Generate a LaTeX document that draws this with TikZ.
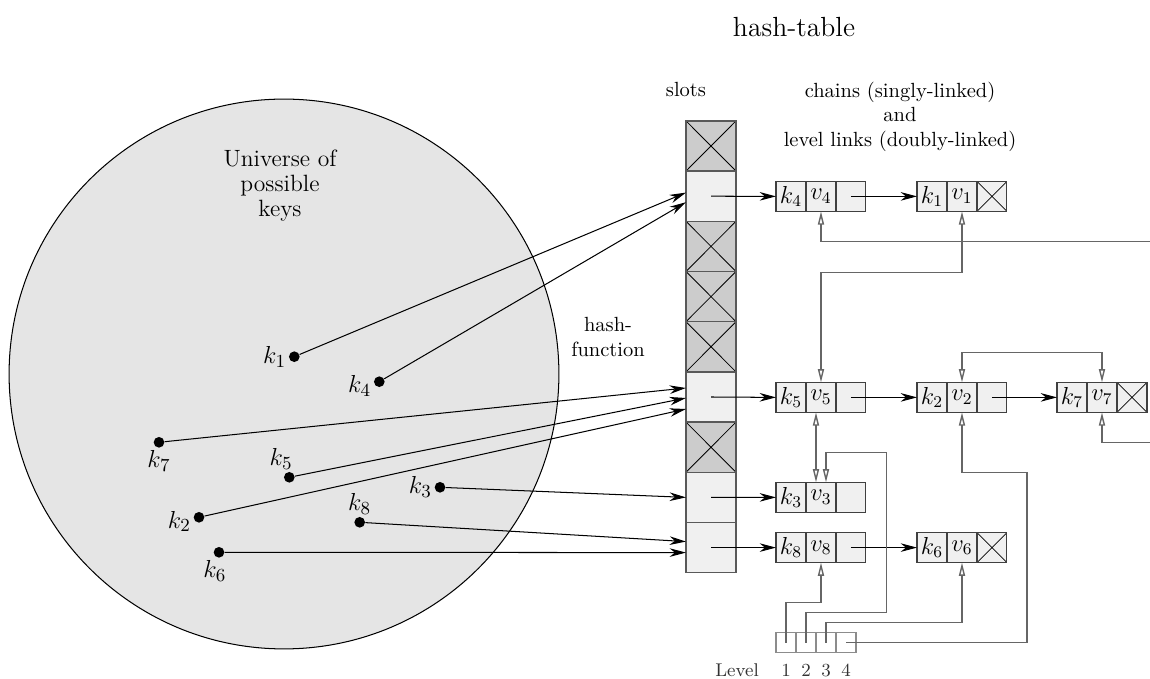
\documentclass[tikz,border=0pt]{standalone}
\usepackage{tikz}
\usetikzlibrary{arrows.meta,positioning,calc}

\definecolor{slotgray}{HTML}{CCCCCC}
\definecolor{cellgray}{HTML}{F0F0F0}
\definecolor{unigray}{HTML}{E5E5E5}
\definecolor{linkgray}{HTML}{666666}

\tikzset{
  nil/.style={path picture={\draw[black, line width=0.4pt]
    (path picture bounding box.north west) -- (path picture bounding box.south east)
    (path picture bounding box.north east) -- (path picture bounding box.south west);}},
  slot/.style={draw=black!65, line width=0.7pt, fill=cellgray, minimum width=24.4pt,
    minimum height=24.49pt, inner sep=0pt, outer sep=0pt},
  emptyslot/.style={slot, fill=slotgray, nil},
  cell/.style={draw=black!75, line width=0.5pt, fill=cellgray, minimum size=14.63pt,
    inner sep=0pt, outer sep=0pt, font=\fontsize{12}{14}\selectfont},
  lvlcell/.style={draw=black!45, line width=0.5pt, fill=white, minimum size=9.76pt,
    inner sep=0pt, outer sep=0pt},
  keydot/.style={circle, fill=black, minimum size=5.2pt, inner sep=0pt, label distance=0pt},
  keylabel/.style={font=\fontsize{12.5}{14}\selectfont, inner sep=1pt},
  ptr/.style={line width=0.5pt, -{Stealth[length=8pt, width=4.2pt]}},
  lvllink/.style={draw=linkgray, line width=0.7pt},
  tolink/.style={lvllink, -{Triangle[open, length=6.5pt, width=3pt]}},
  fromlink/.style={lvllink, {Triangle[open, length=6.5pt, width=3pt]}-},
  bothlink/.style={lvllink, {Triangle[open, length=6.5pt, width=3pt]}-{Triangle[open, length=6.5pt, width=3pt]}},
  lvltext/.style={font=\small, text=black!80, anchor=base}
}

% one chain element: key cell, value cell, next cell
\newcommand{\kventry}[4]{%
  \node[cell] (k#1) at (#2,#3) {$k_{#1}$};
  \node[cell, right=0pt of k#1] (v#1) {$v_{#1}$};
  \node[cell, right=0pt of v#1, #4] (n#1) {};
}

\begin{document}
\begin{tikzpicture}[x=0.4878pt, y=-0.4878pt]
  \useasboundingbox (0,0) rectangle (1150,679);

  %%% universe of keys
  \draw[fill=unigray, line width=0.5pt] (284,374) circle (134.1pt);
  \node[align=center, anchor=north, inner sep=0pt, font=\fontsize{11.5}{12.2}\selectfont]
    (universe) at (280,149.3) {Universe of\\possible\\keys};

  \foreach \i/\x/\y/\a/\dx/\dy in {1/294.3/356.7/left/0/0, 4/379.3/381.7/left/0/-2,
      7/159/442.3/below/0/0, 5/289.3/477.3/above/-4/0, 3/440/487.3/left/0/0,
      2/199/517.3/left/0/-2, 8/359.7/522.3/above/0/0, 6/219/552.3/below/-2/0}
    \node[keydot, label={[keylabel, xshift=\dx pt, yshift=\dy pt]\a:$k_\i$}] (key\i) at (\x,\y) {};

  %%% headings
  \node[anchor=base, inner sep=0pt, font=\fontsize{13.5}{16}\selectfont] (title) at (794,36.7) {hash-table};
  \node[anchor=base, inner sep=0pt] (slots) at (686,96.7) {slots};
  \node[align=center, anchor=north, inner sep=0pt] (chains) at (900,81.3)
    {chains (singly-linked)\\and\\level links (doubly-linked)};
  \node[align=center, anchor=north, inner sep=0pt] (hashfn) at (608,317) {hash-\\function};

  %%% slots
  \foreach \i/\s in {1/emptyslot, 2/slot, 3/emptyslot, 4/emptyslot, 5/emptyslot,
      6/slot, 7/emptyslot, 8/slot, 9/slot}
    \node[\s] (s\i) at (711,{146+50.2*(\i-1)}) {};

  %%% chains
  \kventry{4}{791}{196.4}{}
  \kventry{1}{932}{196.4}{nil}
  \kventry{5}{791}{397.4}{}
  \kventry{2}{932}{397.4}{}
  \kventry{7}{1072}{397.4}{nil}
  \kventry{3}{791}{497.4}{}
  \kventry{8}{791}{547.6}{}
  \kventry{6}{932}{547.6}{nil}

  %%% level array
  \foreach \i in {1,...,4} {
    \node[lvlcell] (L\i) at ({766+20*\i},642.7) {};
    \node[lvltext] (lvl\i) at ({766+20*\i},677) {\i};
  }
  \node[lvltext, anchor=base east] (lvlword) at (766,677) {Level};

  %%% hash function
  \draw[ptr] (key1) -- ($(s2.west)+(0,-3.6)$);
  \draw[ptr] (key4) -- ($(s2.west)+(0,6)$);
  \draw[ptr] (key7) -- ($(s6.west)+(0,-9)$);
  \draw[ptr] (key5) -- ($(s6.west)+(0,1)$);
  \draw[ptr] (key2) -- ($(s6.west)+(0,12)$);
  \draw[ptr] (key3) -- (s8.west);
  \draw[ptr] (key8) -- ($(s9.west)+(0,-6)$);
  \draw[ptr] (key6) -- ($(s9.west)+(0,5)$);

  %%% slot and next pointers
  \draw[ptr] (s2.center) -- (k4.west);
  \draw[ptr] (s6.center) -- (k5.west);
  \draw[ptr] (s8.center) -- (k3.west);
  \draw[ptr] (s9.center) -- (k8.west);
  \draw[ptr] (n4.center) -- (k1.west);
  \draw[ptr] (n5.center) -- (k2.west);
  \draw[ptr] (n2.center) -- (k7.west);
  \draw[ptr] (n8.center) -- (k6.west);

  %%% level links
  \coordinate (edge1) at (1150,241.7);
  \coordinate (edge2) at (1150,442.3);
  \draw[tolink] (edge1) -| (v4.south);
  \draw[bothlink] (v1.south) -- ++(0,61.3) -| (v5.north);
  \draw[bothlink] (v2.north) -- ++(0,-30) -| (v7.north);
  \draw[fromlink] (v7.south) |- (edge2);
  \draw[bothlink] ($(v5.south)+(-5,0)$) -- ($(v3.north)+(-5,0)$);
  \draw[tolink] (L1.center) -- ++(0,-40) -| (v8.south);
  \draw[tolink] (L2.center) -- ++(0,-30) -- ++(80.7,0) -- ++(0,-160.4) -| ($(v3.north)+(5,0)$);
  \draw[tolink] (L3.center) -- ++(0,-20) -| (v6.south);
  \draw[tolink] (L4.center) -- ++(181,0) -- ++(0,-170.4) -| (v2.south);
\end{tikzpicture}
\end{document}
